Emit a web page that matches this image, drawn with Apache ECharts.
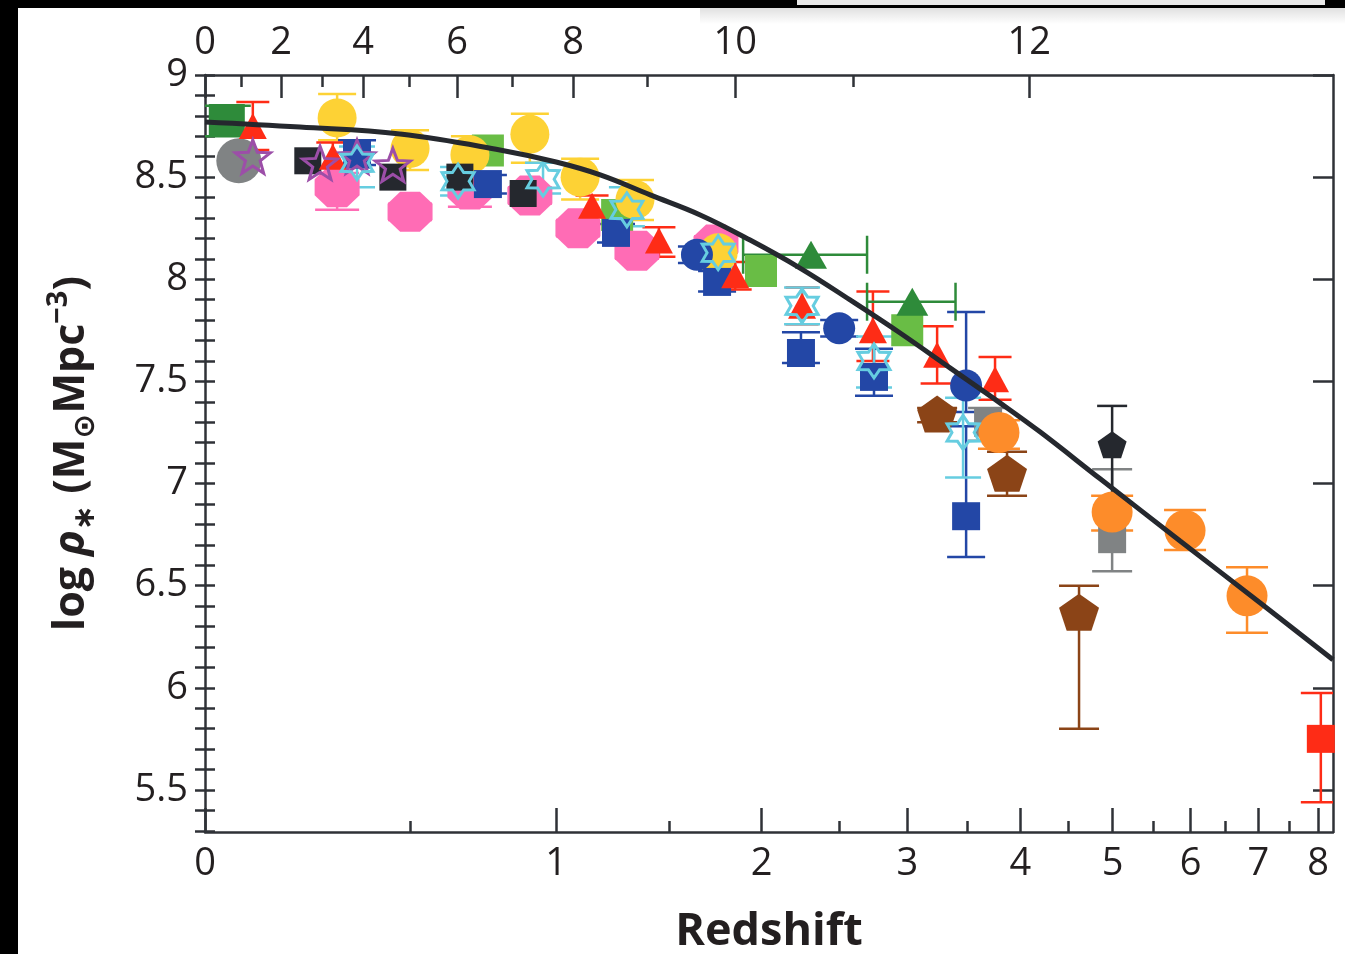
<!DOCTYPE html>
<html>
<head>
<meta charset="utf-8">
<script src="https://cdn.jsdelivr.net/npm/echarts@6/dist/echarts.min.js"></script>
<style>
  html, body { margin: 0; padding: 0; background: #fff; }
  #chart { width: 1345px; height: 954px; }
</style>
</head>
<body>
<div id="chart"></div>
<script>
// ---- axis ticks ----
const zMajor = [0, 1, 2, 3, 4, 5, 6, 7, 8];
const zMinor = [0.5, 1.5, 2.5, 3.5, 4.5, 5.5, 6.5, 7.5];
const zMaxShown = 8.27;
// lookback time (Gyr) and the redshift at which each tick sits
const lookbackGyr = [0, 1, 2, 3, 4, 5, 6, 7, 8, 9, 10, 11, 12];
const lookbackZ = [0, 0.074, 0.162, 0.26, 0.366, 0.496, 0.645, 0.834, 1.068, 1.394, 1.848, 2.595, 4.09];
const yMajor = [5.5, 6, 6.5, 7, 7.5, 8, 8.5, 9];
const yMajorLabels = ['5.5', '6', '6.5', '7', '7.5', '8', '8.5', '9'];
const yMin = 5.294, yMax = 9;

// ---- best-fit stellar mass density curve ----
const fitZ = [0, 0.206, 0.47, 0.79, 1.0, 1.182, 1.408, 1.658, 1.933, 2.237, 2.573, 2.944, 3.352, 3.803, 4.198, 4.854, 5.855, 7.026, 8.27];
const fitRho = [8.77, 8.745, 8.711, 8.633, 8.574, 8.511, 8.413, 8.315, 8.192, 8.055, 7.899, 7.737, 7.566, 7.395, 7.253, 7.023, 6.719, 6.416, 6.137];

// ---- measurements: redshift, log rho*, lower / upper error ----
const greyCircZ = [0.069];
const greyCircRho = [8.58];

const dkGreenSqZ = [0.044];
const dkGreenSqRho = [8.78];
const dkGreenSqLo = [8.70];
const dkGreenSqHi = [8.85];

const ltGreenSqZ = [0.748, 1.256, 1.997, 3.0];
const ltGreenSqRho = [8.63, 8.315, 8.04, 7.75];

const pinkZ = [0.298, 0.499, 0.687, 0.899, 1.088, 1.346, 1.742];
const pinkRho = [8.45, 8.33, 8.44, 8.41, 8.25, 8.14, 8.17];
const pinkLo = [8.34, 8.29, 8.355, 8.37, 8.21, 8.10, 8.13];
const pinkHi = [8.52, 8.37, 8.50, 8.45, 8.29, 8.18, 8.21];

const yellowZ = [0.298, 0.499, 0.687, 0.899, 1.097, 1.337, 1.754];
const yellowRho = [8.79, 8.64, 8.61, 8.71, 8.50, 8.39, 8.13];
const yellowLo = [8.68, 8.535, 8.52, 8.57, 8.39, 8.29, 8.05];
const yellowHi = [8.907, 8.73, 8.70, 8.81, 8.59, 8.486, 8.21];

const blackSqZ = [0.225, 0.449, 0.654, 0.874];
const blackSqRho = [8.58, 8.50, 8.50, 8.42];

const blueSqZ = [0.350, 0.748, 1.251, 1.748, 2.243, 2.746, 3.493];
const blueSqRho = [8.61, 8.466, 8.227, 7.987, 7.639, 7.522, 6.84];
const blueSqLo = [8.56, 8.42, 8.18, 7.94, 7.59, 7.43, 6.64];
const blueSqHi = [8.68, 8.51, 8.27, 8.04, 7.74, 7.66, 7.28];

const redTriZ = [0.099, 0.287, 1.147, 1.45, 1.848, 2.25, 2.738, 3.243, 3.757];
const redTriRho = [8.75, 8.60, 8.36, 8.19, 8.02, 7.87, 7.75, 7.63, 7.51];
const redTriLo = [8.633, 8.55, 8.31, 8.11, 7.95, 7.78, 7.60, 7.49, 7.41];
const redTriHi = [8.868, 8.67, 8.41, 8.255, 8.085, 7.96, 7.94, 7.77, 7.62];

const blueCircZ = [1.641, 2.497, 3.493];
const blueCircRho = [8.12, 7.76, 7.48];
const blueCircLo = [8.08, 7.72, 7.35];
const blueCircHi = [8.16, 7.80, 7.84];

const greenTriZ = [2.308, 3.04];
const greenTriRho = [8.12, 7.89];
const greenTriZLo = [1.893, 2.695];
const greenTriZHi = [2.695, 3.40];

const brownPentZ = [3.243, 3.871, 4.615];
const brownPentRho = [7.34, 7.05, 6.37];
const brownPentLo = [7.30, 6.94, 5.80];
const brownPentHi = [7.37, 7.155, 6.50];

const greySqZ = [3.692, 4.994];
const greySqRho = [7.30, 6.73];
const greySqLo = [7.21, 6.57];
const greySqHi = [7.37, 7.07];

const orangeZ = [3.794, 4.994, 5.922, 6.823];
const orangeRho = [7.25, 6.86, 6.77, 6.45];
const orangeLo = [7.17, 6.77, 6.675, 6.27];
const orangeHi = [7.31, 6.94, 6.87, 6.59];

const blackPentZ = [4.994];
const blackPentRho = [7.19];
const blackPentLo = [6.83];
const blackPentHi = [7.38];

const redSqZ = [8.05];
const redSqRho = [5.75];
const redSqLo = [5.44];
const redSqHi = [5.975];

const purpleStarZ = [0.099, 0.255, 0.350, 0.449];
const purpleStarRho = [8.60, 8.57, 8.60, 8.56];

const cyanStarZ = [0.350, 0.648, 0.949, 1.300, 1.754, 2.25, 2.746, 3.466];
const cyanStarRho = [8.57, 8.48, 8.49, 8.34, 8.13, 7.87, 7.60, 7.25];
const cyanStarLo = [8.45, 8.41, 8.42, 8.26, 8.06, 7.78, 7.47, 7.03];
const cyanStarHi = [8.65, 8.55, 8.57, 8.45, 8.20, 7.96, 7.72, 7.42];

// ---- styling ----
const AX = '#2f3237';
const TXT = '#231f20';
const FONT = '"Open Sans", "Noto Sans", "DejaVu Sans", sans-serif';
const C = {
  dkGreen: '#2e8b3a', ltGreen: '#69bd45', red: '#fe2c16', yellow: '#fdd235',
  grey: '#808384', purple: '#9c4ea8', black: '#25282e', pink: '#ff6cb5',
  blue: '#2347a6', cyan: '#66cde0', brown: '#8b4417', orange: '#fd8c2a'
};

const lz = z => Math.log10(1 + z);
const X_MAX = lz(zMaxShown);

function polyPath(pts) {
  return 'path://M' + pts.map(p => p[0].toFixed(2) + ' ' + p[1].toFixed(2)).join(' L') + ' Z';
}
function starPts(n, ro, ri) {
  const pts = [];
  for (let k = 0; k < 2 * n; k++) {
    const r = k % 2 ? ri : ro;
    const a = -Math.PI / 2 + k * Math.PI / n;
    pts.push([50 + r * Math.cos(a), 50 + r * Math.sin(a)]);
  }
  return pts;
}
function regPts(n) {
  const pts = [];
  for (let k = 0; k < n; k++) {
    const a = -Math.PI / 2 + k * 2 * Math.PI / n;
    pts.push([50 + 50 * Math.cos(a), 50 + 50 * Math.sin(a)]);
  }
  return pts;
}
const STAR5 = polyPath(starPts(5, 50, 21));
const STAR6 = polyPath(starPts(6, 50, 30));
const PENT = polyPath(regPts(5));
const OCT = 'path://M28 0 L72 0 L100 30 L100 70 L72 100 L28 100 L0 70 L0 30 Z';

function points(zs, rhos, symbol, size, itemStyle) {
  return {
    type: 'scatter', xAxisIndex: 0, yAxisIndex: 0, symbol, symbolSize: size,
    clip: false,
    data: zs.map((z, i) => [lz(z), rhos[i]]),
    itemStyle: Object.assign({ opacity: 1 }, itemStyle), silent: true
  };
}
function errY(zs, lo, hi, color, cap) {
  return {
    type: 'custom', xAxisIndex: 0, yAxisIndex: 0, clip: true, silent: true,
    data: zs.map((z, i) => [lz(z), lo[i], hi[i]]),
    encode: { x: 0, y: [1, 2] },
    renderItem(params, api) {
      const x = api.value(0);
      const a = api.coord([x, api.value(1)]);
      const b = api.coord([x, api.value(2)]);
      const h = cap / 2;
      const st = { stroke: color, lineWidth: 2.5 };
      return {
        type: 'group', children: [
          { type: 'line', shape: { x1: a[0], y1: a[1], x2: b[0], y2: b[1] }, style: st },
          { type: 'line', shape: { x1: a[0] - h, y1: a[1], x2: a[0] + h, y2: a[1] }, style: st },
          { type: 'line', shape: { x1: b[0] - h, y1: b[1], x2: b[0] + h, y2: b[1] }, style: st }
        ]
      };
    }
  };
}
function errX(zs, rhos, zlo, zhi, color, cap) {
  return {
    type: 'custom', xAxisIndex: 0, yAxisIndex: 0, clip: true, silent: true,
    data: zs.map((z, i) => [lz(zlo[i]), lz(zhi[i]), rhos[i]]),
    encode: { x: [0, 1], y: 2 },
    renderItem(params, api) {
      const y = api.value(2);
      const a = api.coord([api.value(0), y]);
      const b = api.coord([api.value(1), y]);
      const h = cap / 2;
      const st = { stroke: color, lineWidth: 2.5 };
      return {
        type: 'group', children: [
          { type: 'line', shape: { x1: a[0], y1: a[1], x2: b[0], y2: b[1] }, style: st },
          { type: 'line', shape: { x1: a[0], y1: a[1] - h, x2: a[0], y2: a[1] + h }, style: st },
          { type: 'line', shape: { x1: b[0], y1: b[1] - h, x2: b[0], y2: b[1] + h }, style: st }
        ]
      };
    }
  };
}

const yMinor = [];
for (let k = 53; k <= 90; k++) yMinor.push(k / 10);

const tickLabel = { fontFamily: FONT, fontSize: 38, color: TXT };
const lineSt = { color: AX, width: 2.5 };

const series = [
  points(greyCircZ, greyCircRho, 'circle', 45, { color: C.grey }),
  errY(dkGreenSqZ, dkGreenSqLo, dkGreenSqHi, C.dkGreen, 48),
  points(dkGreenSqZ, dkGreenSqRho, 'rect', [36, 32], { color: C.dkGreen }),
  points(ltGreenSqZ, ltGreenSqRho, 'rect', 32, { color: C.ltGreen }),
  errY(pinkZ, pinkLo, pinkHi, C.pink, 44),
  points(pinkZ, pinkRho, OCT, [45, 40], { color: C.pink }),
  errY(yellowZ, yellowLo, yellowHi, C.yellow, 38),
  points(yellowZ, yellowRho, 'circle', 39, { color: C.yellow }),
  points(blackSqZ, blackSqRho, 'rect', 27, { color: C.black }),
  errY(blueSqZ, blueSqLo, blueSqHi, C.blue, 38),
  points(blueSqZ, blueSqRho, 'rect', 28, { color: C.blue }),
  errY(redTriZ, redTriLo, redTriHi, C.red, 33),
  points(redTriZ, redTriRho, 'triangle', [28, 26], { color: C.red }),
  errY(blueCircZ, blueCircLo, blueCircHi, C.blue, 38),
  points(blueCircZ, blueCircRho, 'circle', 32, { color: C.blue }),
  errX(greenTriZ, greenTriRho, greenTriZLo, greenTriZHi, C.dkGreen, 38),
  points(greenTriZ, greenTriRho, 'triangle', [32, 28], { color: C.dkGreen }),
  errY(brownPentZ, brownPentLo, brownPentHi, C.brown, 40),
  points(brownPentZ, brownPentRho, PENT, [40, 37], { color: C.brown }),
  errY(greySqZ, greySqLo, greySqHi, C.grey, 40),
  points(greySqZ, greySqRho, 'rect', [28, 29], { color: C.grey }),
  errY(orangeZ, orangeLo, orangeHi, C.orange, 42),
  points(orangeZ, orangeRho, 'circle', 41, { color: C.orange }),
  errY(blackPentZ, blackPentLo, blackPentHi, C.black, 30),
  points(blackPentZ, blackPentRho, PENT, [29, 27], { color: C.black }),
  errY(redSqZ, redSqLo, redSqHi, C.red, 40),
  points(redSqZ, redSqRho, 'rect', 28, { color: C.red }),
  points(purpleStarZ, purpleStarRho, STAR5, [35, 33], { color: 'rgba(0,0,0,0)', borderColor: C.purple, borderWidth: 3 }),
  errY(cyanStarZ, cyanStarLo, cyanStarHi, C.cyan, 36),
  points(cyanStarZ, cyanStarRho, STAR6, [32, 34], { color: 'rgba(0,0,0,0)', borderColor: C.cyan, borderWidth: 3 }),
  {
    type: 'line', xAxisIndex: 0, yAxisIndex: 0, smooth: 0.4, showSymbol: false, symbol: 'none',
    clip: true, silent: true, z: 5,
    lineStyle: { color: '#25282e', width: 5 },
    data: fitZ.map((z, i) => [lz(z), fitRho[i]])
  }
];

const chart = echarts.init(document.getElementById('chart'), null, { renderer: 'canvas' });
chart.setOption({
  animation: false,
  backgroundColor: '#ffffff',
  grid: { left: 205, right: 12, top: 75, bottom: 122, outerBoundsMode: 'none', containLabel: false },
  xAxis: [
    {
      type: 'value', position: 'bottom', min: 0, max: X_MAX,
      axisLine: { show: true, onZero: false, lineStyle: lineSt },
      axisTick: { show: true, inside: true, length: 24, lineStyle: lineSt, customValues: zMajor.map(lz) },
      axisLabel: {
        show: true, margin: 13, ...tickLabel, customValues: zMajor.map(lz),
        formatter: v => String(Math.round(Math.pow(10, v) - 1))
      },
      splitLine: { show: false },
      name: 'Redshift', nameLocation: 'middle', nameGap: 78,
      nameTextStyle: { fontFamily: FONT, fontSize: 45, fontWeight: 'bold', color: TXT }
    },
    {
      type: 'value', position: 'bottom', min: 0, max: X_MAX,
      axisLine: { show: false },
      axisTick: { show: true, inside: true, length: 11, lineStyle: lineSt, customValues: zMinor.map(lz) },
      axisLabel: { show: false }, splitLine: { show: false }
    },
    {
      type: 'value', position: 'top', min: 0, max: X_MAX,
      axisLine: { show: true, onZero: false, lineStyle: lineSt },
      axisTick: {
        show: true, inside: true, length: 23, lineStyle: lineSt,
        customValues: lookbackZ.filter((z, i) => lookbackGyr[i] % 2 === 0).map(lz)
      },
      axisLabel: {
        show: true, margin: 13, ...tickLabel,
        customValues: lookbackZ.filter((z, i) => lookbackGyr[i] % 2 === 0).map(lz),
        formatter: v => {
          const i = lookbackZ.findIndex(z => Math.abs(lz(z) - v) < 1e-6);
          return i >= 0 ? String(lookbackGyr[i]) : '';
        }
      },
      splitLine: { show: false }
    },
    {
      type: 'value', position: 'top', min: 0, max: X_MAX,
      axisLine: { show: false },
      axisTick: {
        show: true, inside: true, length: 12, lineStyle: lineSt,
        customValues: lookbackZ.filter((z, i) => lookbackGyr[i] % 2 === 1).map(lz)
      },
      axisLabel: { show: false }, splitLine: { show: false }
    }
  ],
  yAxis: [
    {
      type: 'value', position: 'left', min: yMin, max: yMax,
      axisLine: { show: true, onZero: false, lineStyle: lineSt },
      axisTick: { show: true, inside: true, length: 10, lineStyle: lineSt, customValues: yMinor },
      axisLabel: {
        show: true, margin: 17, ...tickLabel, customValues: yMajor,
        formatter: v => {
          const i = yMajor.findIndex(t => Math.abs(t - v) < 1e-6);
          return i >= 0 ? yMajorLabels[i] : '';
        }
      },
      splitLine: { show: false },
      name: '{b|log }{i|ρ}{s|∗}{b| (M}{s|⊙}{b|Mpc}{p|−3}{b|)}',
      nameLocation: 'middle', nameRotate: 90, nameGap: 105,
      nameTextStyle: {
        color: TXT,
        rich: {
          b: { fontFamily: FONT, fontSize: 43, fontWeight: 'bold', color: TXT, lineHeight: 56 },
          i: { fontFamily: FONT, fontSize: 43, fontWeight: 'bold', fontStyle: 'italic', color: TXT, lineHeight: 56 },
          s: { fontFamily: FONT, fontSize: 30, fontWeight: 'bold', color: TXT, lineHeight: 30, verticalAlign: 'bottom' },
          p: { fontFamily: FONT, fontSize: 29, fontWeight: 'bold', color: TXT, lineHeight: 29, verticalAlign: 'top' }
        }
      }
    },
    {
      type: 'value', position: 'right', min: yMin, max: yMax,
      axisLine: { show: true, onZero: false, lineStyle: lineSt },
      axisTick: { show: true, inside: true, length: 20, lineStyle: lineSt, customValues: yMajor },
      axisLabel: { show: false }, splitLine: { show: false }
    },
    {
      type: 'value', position: 'right', min: yMin, max: yMax,
      axisLine: { show: false },
      axisTick: { show: true, inside: true, length: 10, lineStyle: lineSt, customValues: yMinor },
      axisLabel: { show: false }, splitLine: { show: false }
    }
  ],
  graphic: [
    // page frame: dark margins along the top and left edges
    { type: 'rect', left: 0, top: 0, shape: { width: 18, height: 954 }, style: { fill: '#000' }, z: 100 },
    { type: 'rect', left: 0, top: 0, shape: { width: 1345, height: 8 }, style: { fill: '#000' }, z: 100 },
    { type: 'rect', left: 797, top: 0, shape: { width: 528, height: 5 }, style: { fill: '#e9e9e9' }, z: 101 },
    {
      type: 'rect', left: 700, top: 8, shape: { width: 645, height: 16 }, z: 99,
      style: {
        fill: new echarts.graphic.LinearGradient(0, 0, 0, 1, [
          { offset: 0, color: 'rgba(0,0,0,0.12)' }, { offset: 1, color: 'rgba(0,0,0,0)' }
        ])
      }
    }
  ],
  series
});
</script>
</body>
</html>
